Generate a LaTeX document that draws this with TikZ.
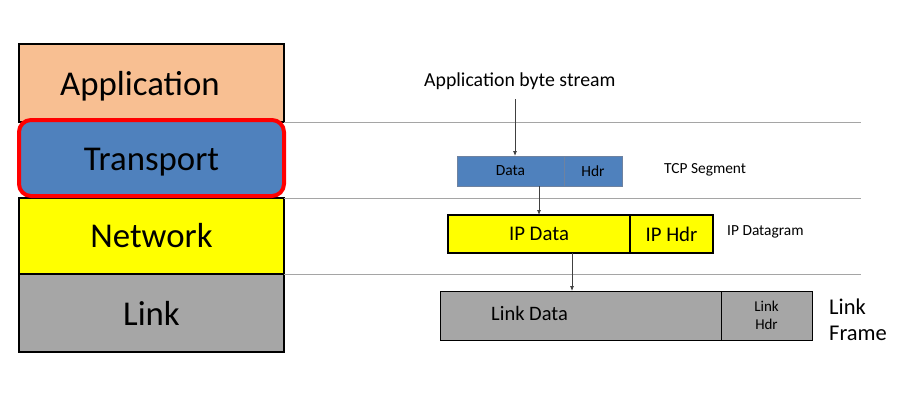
\documentclass[tikz,border=0pt]{standalone}
\usepackage{fontspec}
\setmainfont{Carlito}
\usetikzlibrary{arrows.meta}
\definecolor{appcol}{RGB}{248,191,146}
\definecolor{transcol}{RGB}{79,129,189}
\definecolor{netcol}{RGB}{255,255,0}
\definecolor{linkcol}{RGB}{166,166,166}
\definecolor{rulecol}{RGB}{165,165,165}
\definecolor{tcpedge}{RGB}{110,130,160}
\begin{document}
\begin{tikzpicture}[x=1pt,y=-1pt,
layer/.style={draw=black,line width=2pt,minimum width=265pt,inner sep=0pt,outer sep=0pt,anchor=north west},
big/.style={inner sep=0pt,font=\fontsize{34.8}{42}\selectfont},
seg/.style={inner sep=0pt,outer sep=0pt,anchor=north west},
txt/.style={inner sep=0pt,anchor=base west},
arr/.style={-{Latex[length=5pt,width=4pt]},draw=black!75,line width=0.8pt},
rule/.style={draw=rulecol,line width=0.8pt}
]
\useasboundingbox (0,0) rectangle (916,408);
% protocol stack
\node[layer,fill=appcol,minimum height=78pt] (app) at (19,44) {};
\node[layer,fill=netcol,minimum height=76pt] (net) at (19,198) {};
\node[layer,fill=linkcol,minimum height=78pt] (link) at (19,274) {};
\node[draw=red,line width=4pt,rounded corners=12pt,fill=transcol,outer sep=0pt,
  minimum width=265pt,minimum height=76pt,anchor=north west] (trans) at (19,120) {};
\node[big,anchor=base west] (applbl) at (60,95) {Application};
\node[big,anchor=base] (translbl) at (151.5,170) {Transport};
\node[big,anchor=base] (netlbl) at (151.5,247) {Network};
\node[big,anchor=base] (linklbl) at (151.5,325) {Link};
% layer boundaries
\draw[rule] (app.south east) -- ++(577,0);
\draw[rule] (net.north east) -- ++(577,0);
\draw[rule] (link.north east) -- ++(577,0);
% encapsulation
\node[txt,font=\fontsize{19.8}{23}\selectfont] (stream) at (424,86) {Application byte stream};
\node[seg,fill=transcol,draw=tcpedge,line width=0.8pt,minimum width=107pt,minimum height=30pt,
  font=\fontsize{15.5}{18.5}\selectfont] (tcpdata) at (457,156) {Data};
\node[seg,fill=transcol,draw=tcpedge,line width=0.8pt,minimum width=58pt,minimum height=30pt,
  font=\fontsize{15.5}{18.5}\selectfont] (tcphdr) at (tcpdata.north east) {Hdr};
\node[txt,font=\fontsize{15.4}{18.5}\selectfont] (tcpname) at (664,173) {TCP Segment};
\node[seg,fill=netcol,draw=black,line width=1.5pt,minimum width=182pt,minimum height=38pt,
  font=\fontsize{20.8}{24}\selectfont] (ipdata) at (448,215) {IP Data};
\node[seg,fill=netcol,draw=black,line width=1.5pt,minimum width=83pt,minimum height=38pt,
  font=\fontsize{20.8}{24}\selectfont] (iphdr) at (ipdata.north east) {IP Hdr};
\node[txt,font=\fontsize{15.4}{18.5}\selectfont] (ipname) at (727,235) {IP Datagram};
\node[seg,fill=linkcol,draw=black,line width=1pt,minimum width=281pt,minimum height=49pt] (linkdata) at (440,291) {};
\node[seg,fill=linkcol,draw=black,line width=1pt,minimum width=91pt,minimum height=49pt,
  align=center,font=\fontsize{15}{18.5}\selectfont] (linkhdr) at (linkdata.north east) {Link\\Hdr};
\node[txt,font=\fontsize{20.5}{24}\selectfont] (linkdatalbl) at (491,320.7) {Link Data};
\node[anchor=west,align=left,inner sep=0pt,font=\fontsize{22.5}{26.5}\selectfont] (linkname) at (829,320) {Link\\Frame};
\coordinate (bytes) at (515,99);
\draw[arr] (bytes) -- (bytes |- tcpdata.north);
\draw[arr] (ipdata.north |- tcpdata.south) -- (ipdata.north);
\draw[arr] ([xshift=33pt]ipdata.south) -- ([xshift=33pt]ipdata.south |- linkdata.north);
\end{tikzpicture}
\end{document}
